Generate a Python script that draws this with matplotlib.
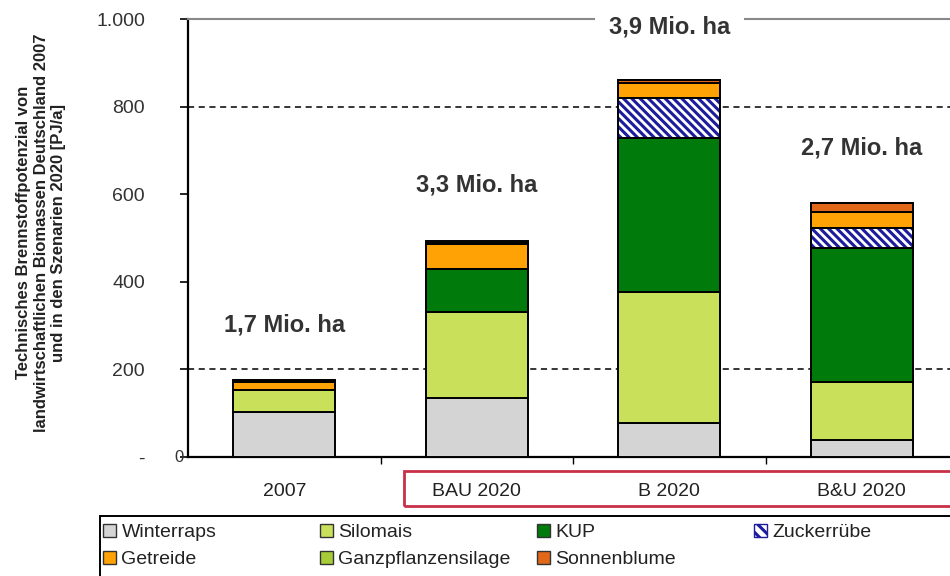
import matplotlib
matplotlib.use("Agg")
import matplotlib.pyplot as plt
from matplotlib.patches import Patch, Rectangle
import matplotlib.transforms as mtransforms
import numpy as np

plt.rcParams['font.family'] = ['Liberation Sans', 'DejaVu Sans']
plt.rcParams['hatch.linewidth'] = 2.2

# data (PJ/a)
categories = ["2007", "BAU 2020", "B 2020", "B&U 2020"]
winterraps = [103, 135, 77, 39]
silomais = [51, 196, 300, 132]
kup = [0, 98, 351, 306]
zuckerruebe = [0, 0, 92, 46]
getreide = [17, 57, 34, 36]
sonnenblume = [4, 3, 6, 21]
ganzpflanzensilage = [0, 5, 0, 0]

area_labels = ["1,7 Mio. ha", "3,3 Mio. ha", "3,9 Mio. ha", "2,7 Mio. ha"]
area_label_y = [301, 621, 982, 705]

yticks = [0, 200, 400, 600, 800, 1000]
ytick_labels = ["-", "200", "400", "600", "800", "1.000"]

c_winterraps = "#d4d4d4"
c_silomais = "#c8e05a"
c_kup = "#007a0a"
c_zucker = "#1c1c9c"
c_getreide = "#ffa206"
c_sonnenblume = "#e06818"
c_gps = "#a8cc38"

fig = plt.figure(figsize=(9.5, 5.76), dpi=100)
ax = fig.add_axes([188 / 950, (576 - 457) / 576, (958 - 188) / 950, (457 - 19) / 576])

x = np.arange(len(categories))
w = 0.53
edge = dict(edgecolor="black", linewidth=1.4, zorder=3)

bottom = np.zeros(len(categories))
ax.bar(x, winterraps, w, bottom=bottom, color=c_winterraps, **edge)
bottom += winterraps
ax.bar(x, silomais, w, bottom=bottom, color=c_silomais, **edge)
bottom += silomais
ax.bar(x, kup, w, bottom=bottom, color=c_kup, **edge)
bottom += kup
# hatched layer: hatch drawn in navy, outline drawn on top in black
ax.bar(x, zuckerruebe, w, bottom=bottom, color="white", edgecolor=c_zucker,
       hatch="\\\\\\\\", linewidth=0, zorder=3)
ax.bar(x, zuckerruebe, w, bottom=bottom, color="none", edgecolor="black",
       linewidth=1.4, zorder=4)
bottom += zuckerruebe
ax.bar(x, getreide, w, bottom=bottom, color=c_getreide, **edge)
bottom += getreide
ax.bar(x, sonnenblume, w, bottom=bottom, color=c_sonnenblume, **edge)
bottom += sonnenblume
ax.bar(x, ganzpflanzensilage, w, bottom=bottom, color=c_gps, **edge)
bottom += ganzpflanzensilage

# dashed reference lines
for yv in [200, 800]:
    ax.axhline(yv, color="black", linestyle=(0, (4, 3)), linewidth=1.1, zorder=1)

ax.set_xlim(-0.5, 3.5)
ax.set_ylim(0, 1000)

ax.set_yticks(yticks)
ax.set_yticklabels(ytick_labels, fontsize=14, color="#333333")
ax.tick_params(axis="y", direction="out", length=6, width=1.2, pad=25)

ax.set_xticks(x)
ax.set_xticklabels(categories, fontsize=14, color="#222222")
ax.set_xticks([0.5, 1.5, 2.5], minor=True)
ax.tick_params(axis="x", which="major", length=0, pad=19)
ax.tick_params(axis="x", which="minor", length=5, width=1.0, direction="out")

ax.spines["left"].set_linewidth(1.6)
ax.spines["bottom"].set_linewidth(1.6)
ax.spines["top"].set_color("#888888")
ax.spines["top"].set_linewidth(1.5)
ax.spines["right"].set_visible(False)

ax.annotate("0", xy=(-0.5, 0), xytext=(-3, 0), textcoords="offset points",
            ha="right", va="center", fontsize=12, color="#333333",
            annotation_clip=False)

ax.set_ylabel("Technisches Brennstoffpotenzial von\n"
              "landwirtschaftlichen Biomassen Deutschland 2007\n"
              "und in den Szenarien 2020 [PJ/a]",
              fontsize=12, fontweight="bold", color="#222222",
              linespacing=1.22)
ax.yaxis.set_label_coords(-0.158, 0.512)

for xi, lab, yl in zip(x, area_labels, area_label_y):
    bbox = None
    if yl > 950:
        bbox = dict(facecolor="white", edgecolor="none", pad=10)
    ax.text(xi, yl, lab, ha="center", va="center", fontsize=17,
            fontweight="bold", color="#333333", bbox=bbox, zorder=5)

# red frame around the scenario labels
trans = mtransforms.blended_transform_factory(ax.transData, ax.transAxes)
ax.add_patch(Rectangle((0.62, -0.112), 3.5, 0.08, transform=trans,
                       facecolor="none", edgecolor="#c83048", linewidth=2,
                       clip_on=False))

# legend frame and columns
fig.patches.append(Rectangle((100 / 950, -0.02), 0.95, (576 - 516) / 576 + 0.02,
                             transform=fig.transFigure, facecolor="none",
                             edgecolor="black", linewidth=1.4))

h_winterraps = Patch(facecolor=c_winterraps, edgecolor="#333333", label="Winterraps")
h_getreide = Patch(facecolor=c_getreide, edgecolor="#333333", label="Getreide")
h_silomais = Patch(facecolor=c_silomais, edgecolor="#333333", label="Silomais")
h_gps = Patch(facecolor=c_gps, edgecolor="#333333", label="Ganzpflanzensilage")
h_kup = Patch(facecolor=c_kup, edgecolor="#333333", label="KUP")
h_sonne = Patch(facecolor=c_sonnenblume, edgecolor="#333333", label="Sonnenblume")
h_zucker = Patch(facecolor="white", edgecolor=c_zucker, hatch="\\\\\\", label="Zuckerrübe")

columns = [[h_winterraps, h_getreide], [h_silomais, h_gps], [h_kup, h_sonne], [h_zucker]]
col_x = [103, 320, 537, 754]
for hs, cx in zip(columns, col_x):
    fig.legend(handles=hs, loc="upper left", bbox_to_anchor=(cx / 950, (576 - 524) / 576),
               frameon=False, fontsize=14, handlelength=0.65, handleheight=0.65,
               handletextpad=0.3, labelspacing=0.5, borderpad=0, borderaxespad=0,
               labelcolor="#222222")

fig.savefig("out.png", dpi=100)
